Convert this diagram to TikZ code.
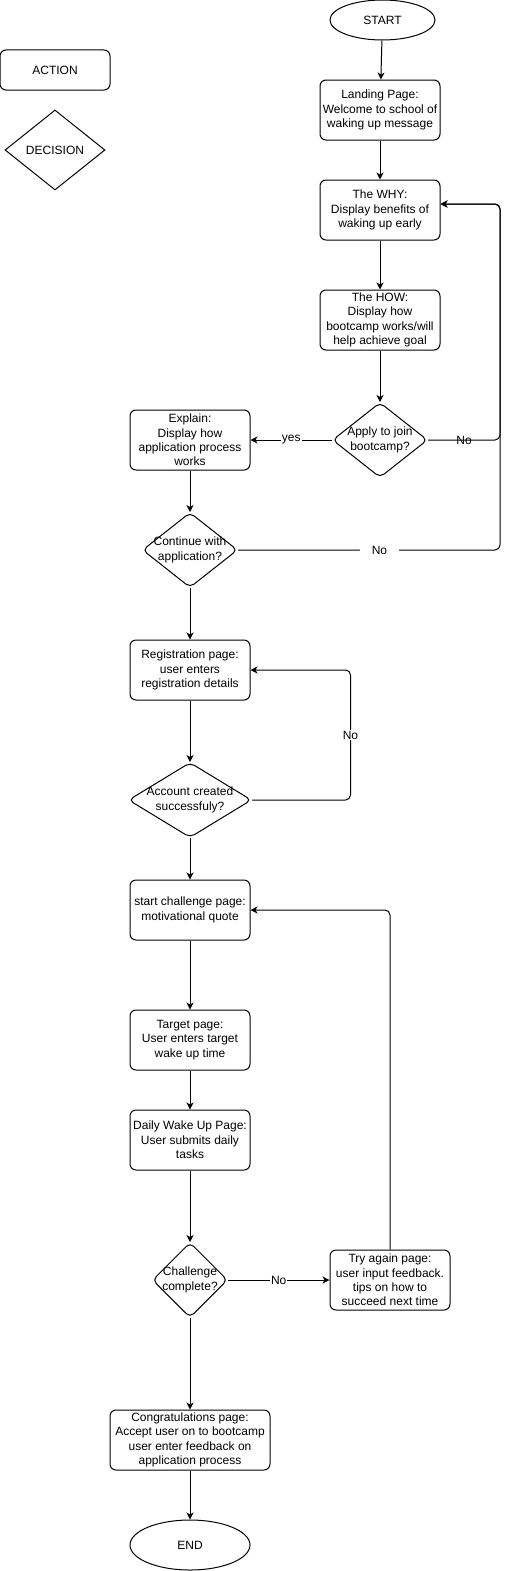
\documentclass[tikz,border=0pt]{standalone}
\usepackage{fontspec}
\setmainfont{Liberation Sans}
\usetikzlibrary{positioning, shapes.geometric, arrows.meta}

\tikzset{
  box/.style={draw, rounded corners=6pt, minimum width=120pt, minimum height=60pt, align=center, inner sep=1pt},
  dec/.style={draw, diamond, rounded corners=5pt, minimum width=95pt, minimum height=75pt, inner sep=0pt},
  term/.style={draw, ellipse, inner sep=0pt},
  flow/.style={-{Stealth[length=7pt, width=7pt, inset=2pt]}},
  lbl/.style={fill=white, inner sep=1pt},
  every label/.style={align=center},
}

\begin{document}
\begin{tikzpicture}[x=1pt, y=-1pt, on grid, line width=1pt, font=\fontsize{12}{14.4}\selectfont]
   \useasboundingbox (0,0) rectangle (509,1571);
   % legend
   \node[box, minimum width=110pt, minimum height=40pt] (action) at (55,70) {ACTION};
   \node[dec, sharp corners, minimum width=100pt, minimum height=80pt, label={center:DECISION}] (decision) at (55,150) {};
   % flow
   \node[term, minimum width=105pt, minimum height=40pt] (start) at (382.5,20) {START};
   \node[box] (land) at (380,110) {Landing Page:\\Welcome to school of\\waking up message};
   \node[box, below=100pt of land] (why) {The WHY:\\Display benefits of\\waking up early};
   \node[box, below=110pt of why] (how) {The HOW:\\Display how\\bootcamp works/will\\help achieve goal};
   \node[dec, below=120pt of how, label={center:Apply to join\\bootcamp?}] (apply) {};
   \node[box, left=190pt of apply] (explain) {Explain:\\Display how\\application process\\works};
   \node[dec, below=110pt of explain, label={center:Continue with\\application?}] (cont) {};
   \node[box, below=120pt of cont] (reg) {Registration page:\\user enters\\registration details};
   \node[dec, minimum width=123pt, below=130pt of reg, label={center:Account created\\successfuly?}] (acc) {};
   \node[box, below=110pt of acc] (chal) {start challenge page:\\motivational quote};
   \node[box, below=130pt of chal] (target) {Target page:\\User enters target\\wake up time};
   \node[box, below=100pt of target] (daily) {Daily Wake Up Page:\\User submits daily\\tasks};
   \node[dec, minimum width=75pt, below=140pt of daily, label={center:Challenge\\complete?}] (cc) {};
   \node[box, right=200pt of cc] (retry) {Try again page:\\user input feedback.\\tips on how to\\succeed next time};
   \node[box, minimum width=160pt, below=160pt of cc] (congrats) {Congratulations page:\\Accept user on to bootcamp\\user enter feedback on\\application process};
   \node[term, minimum width=120pt, minimum height=50pt, below=105pt of congrats] (finish) {END};
   \coordinate (back) at (500,204);

   \draw[flow] (start) -- (land);
   \draw[flow] (land) -- (why);
   \draw[flow] (why) -- (how);
   \draw[flow] (how) -- (apply);
   \draw[flow] (apply) -- node[lbl]{yes} (explain);
   \draw[flow, rounded corners=5pt] (apply.east) -| node[pos=0.25]{No} (back) -- ([yshift=6pt]why.east);
   \draw[flow, rounded corners=5pt] (cont.east) -| node[pos=0.27, lbl, inner xsep=12pt]{No} (back) -- ([yshift=6pt]why.east);
   \draw[flow] (explain) -- (cont);
   \draw[flow] (cont) -- (reg);
   \draw[flow] (reg) -- (acc);
   \draw[flow, rounded corners=5pt] (acc.east) -- ++(98.5,0) |- node[pos=0.25, lbl]{No} (reg.east);
   \draw[flow] (acc) -- (chal);
   \draw[flow] (chal) -- (target);
   \draw[flow] (target) -- (daily);
   \draw[flow] (daily) -- (cc);
   \draw[flow] (cc) -- node[lbl]{No} (retry);
   \draw[flow, rounded corners=5pt] (retry.north) |- (chal.east);
   \draw[flow] (cc) -- (congrats);
   \draw[flow] (congrats) -- (finish);
\end{tikzpicture}
\end{document}
